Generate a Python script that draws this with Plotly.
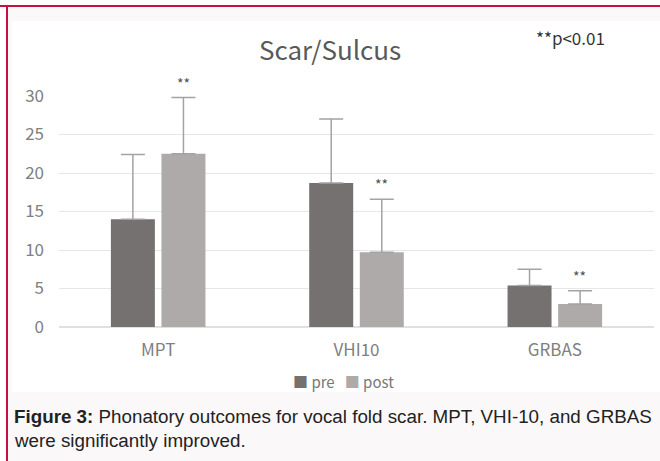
import plotly.graph_objects as go

categories = ["MPT", "VHI10", "GRBAS"]
pre_values = [14.0, 18.7, 5.4]
pre_sd = [8.4, 8.3, 2.1]
post_values = [22.5, 9.7, 3.0]
post_sd = [7.3, 6.9, 1.7]
post_sig = ["**", "**", "**"]
y_ticks = [0, 5, 10, 15, 20, 25, 30]
series_names = ["pre", "post"]

PRE_COLOR = "#767171"
POST_COLOR = "#aeaaaa"
ERR_COLOR = "#a3a3a3"
CJK = "Noto Sans CJK JP"

fig = go.Figure()
fig.add_trace(go.Bar(
    name=series_names[0], x=categories, y=pre_values, marker_color=PRE_COLOR,
    marker_line_width=0,
    error_y=dict(type="data", array=pre_sd, symmetric=False, arrayminus=[0]*3,
                 color=ERR_COLOR, thickness=1.5, width=12),
))
fig.add_trace(go.Bar(
    name=series_names[1], x=categories, y=post_values, marker_color=POST_COLOR,
    marker_line_width=0,
    error_y=dict(type="data", array=post_sd, symmetric=False, arrayminus=[0]*3,
                 color=ERR_COLOR, thickness=1.5, width=12),
))

W, H = 660, 461
L, R, T, B = 59, 6, 96, 134
pw, ph = W - L - R, H - T - B

def px(x):
    return (x - L) / pw

def py(y):
    return (H - B - y) / ph

annotations = []
for c, v, s, m in zip(categories, post_values, post_sd, post_sig):
    annotations.append(dict(
        xref="x", yref="y", x=c, y=v + s, text=m, showarrow=False,
        xshift=25, yshift=15, yanchor="middle",
        font=dict(family=CJK, size=14, color="#505050"),
    ))

legend_text = (
    f"<span style='color:{PRE_COLOR}'>■</span> {series_names[0]}   "
    f"<span style='color:{POST_COLOR}'>■</span> {series_names[1]}"
)

annotations += [
    dict(xref="paper", yref="paper", x=px(330), y=py(49), text="Scar/Sulcus",
         showarrow=False, xanchor="center", yanchor="middle",
         font=dict(family=CJK, size=26, color="#595959")),
    dict(xref="paper", yref="paper", x=px(570), y=py(37), text="**p<0.01",
         showarrow=False, xanchor="center", yanchor="middle",
         font=dict(family=CJK, size=17, color="#333333")),
    dict(xref="paper", yref="paper", x=px(343), y=py(381), text=legend_text,
         showarrow=False, xanchor="center", yanchor="middle",
         font=dict(family=CJK, size=15, color="#777777")),
    dict(xref="paper", yref="paper", x=px(12), y=py(416),
         text="<b>Figure 3:</b> Phonatory outcomes for vocal fold scar. MPT, VHI-10, and GRBAS",
         showarrow=False, xanchor="left", yanchor="middle",
         font=dict(family="Liberation Sans, Arial", size=18.8, color="#222222")),
    dict(xref="paper", yref="paper", x=px(12), y=py(440),
         text="were significantly improved.",
         showarrow=False, xanchor="left", yanchor="middle",
         font=dict(family="Liberation Sans, Arial", size=18.8, color="#222222")),
]

shapes = [
    dict(type="rect", xref="paper", yref="paper", x0=px(12), x1=px(662), y0=py(392), y1=py(21),
         fillcolor="white", line=dict(width=0), layer="below"),
    dict(type="rect", xref="paper", yref="paper", x0=px(0), x1=px(662), y0=py(7), y1=py(5),
         fillcolor="#c8103f", line=dict(width=0)),
    dict(type="rect", xref="paper", yref="paper", x0=px(6), x1=px(8), y0=py(470), y1=py(5),
         fillcolor="#c8103f", line=dict(width=0)),
    dict(type="rect", xref="paper", yref="paper", x0=px(0), x1=px(6), y0=py(470), y1=py(0),
         fillcolor="white", line=dict(width=0), layer="below"),
    dict(type="rect", xref="paper", yref="paper", x0=px(0), x1=px(662), y0=py(5), y1=py(-2),
         fillcolor="white", line=dict(width=0), layer="below"),
]

fig.update_layout(
    width=W, height=H,
    margin=dict(l=L, r=R, t=T, b=B),
    paper_bgcolor="#faf8f9",
    plot_bgcolor="white",
    barmode="group", bargap=0.49, bargroupgap=0.13,
    showlegend=False,
    annotations=annotations,
    shapes=shapes,
    xaxis=dict(showline=False, ticks="", ticklabelstandoff=11,
               tickfont=dict(family=CJK, size=17, color="#808080")),
    yaxis=dict(range=[0, 30], tickvals=y_ticks, showgrid=True, gridcolor="#e6e6e6",
               zeroline=True, zerolinecolor="#e0e0e0", showline=False, ticks="",
               ticklabelstandoff=14,
               tickfont=dict(family=CJK, size=17, color="#808080")),
)

fig.write_html("out.html", config={"displayModeBar": False},
               post_script="document.body.style.margin='0';document.body.style.overflow='hidden';")
